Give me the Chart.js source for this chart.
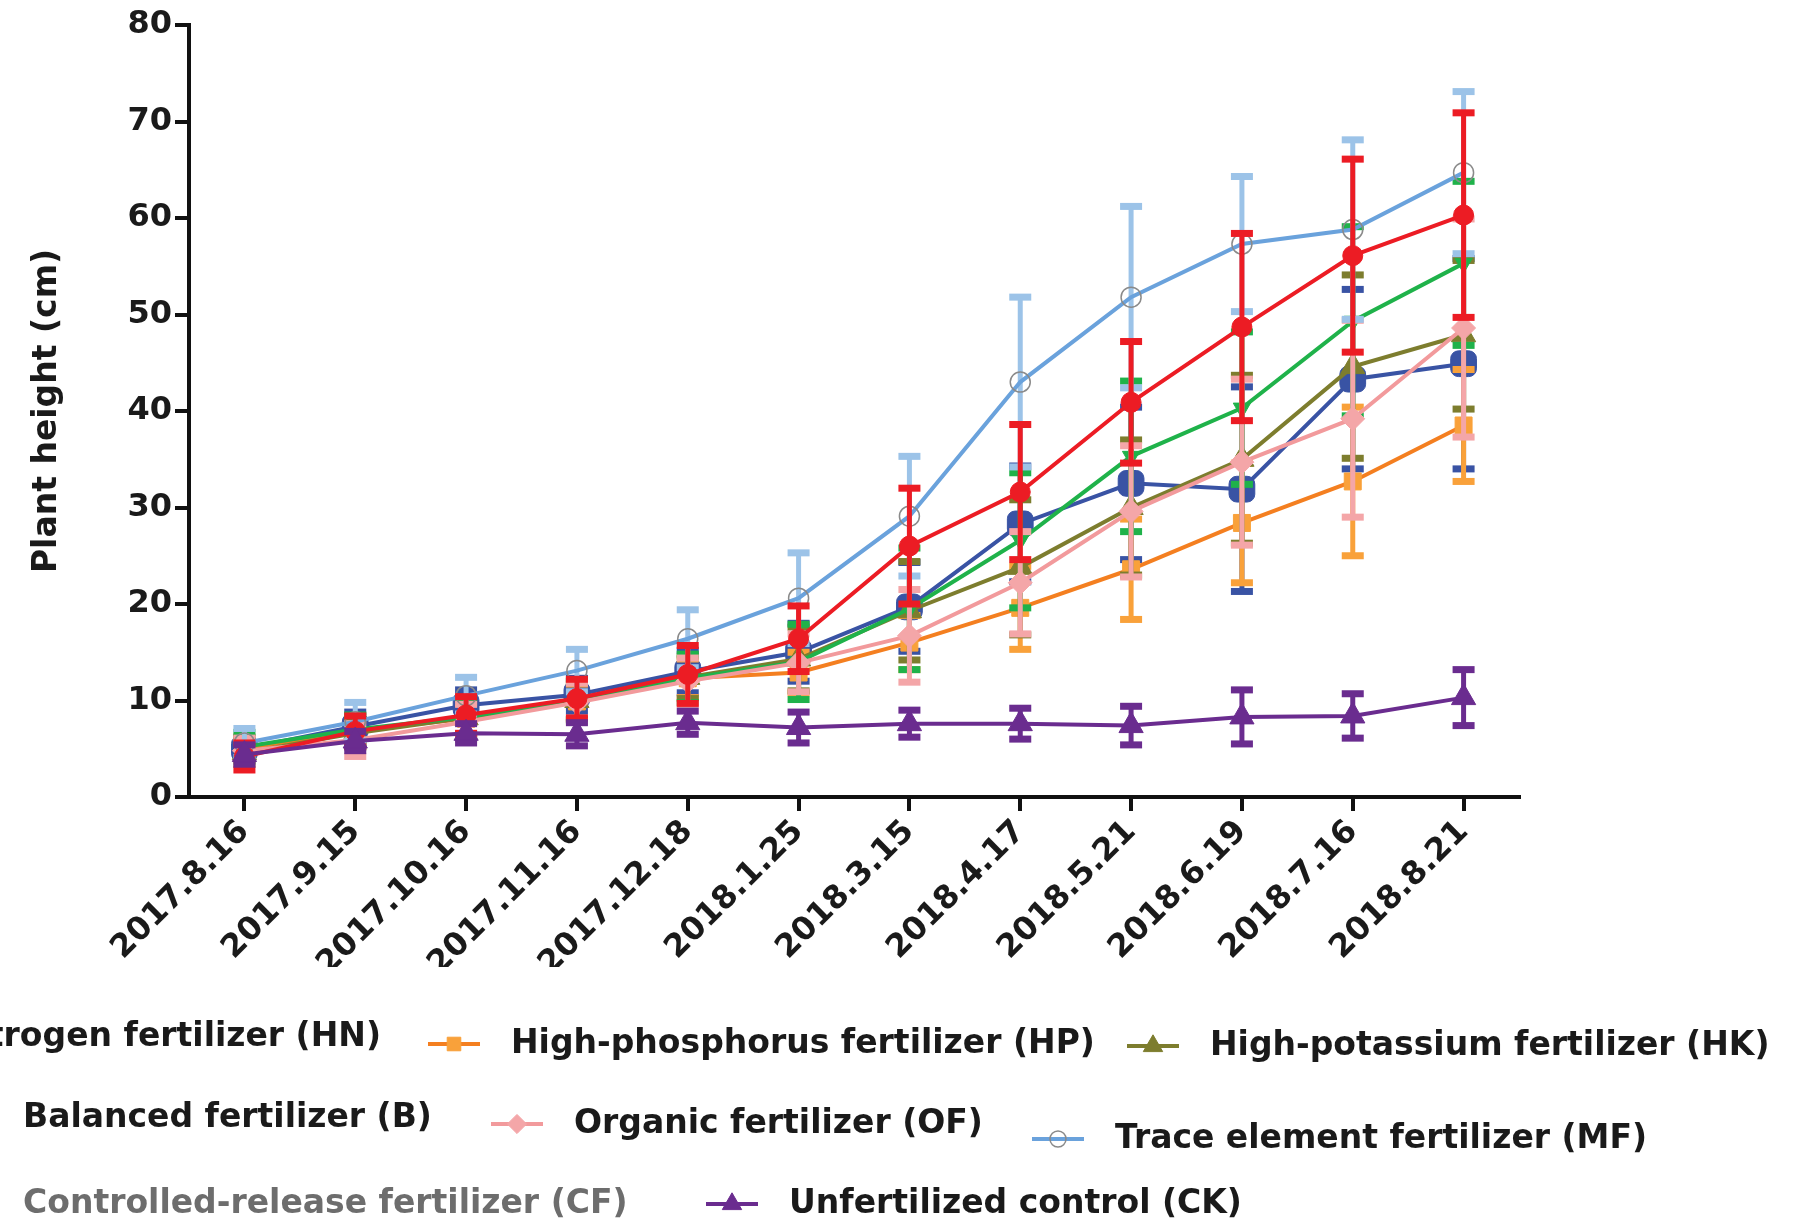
<!DOCTYPE html>
<html>
<head>
<meta charset="utf-8">
<script src="https://cdn.jsdelivr.net/npm/chart.js@4.4.0/dist/chart.umd.min.js"></script>
<style>
html, body { margin: 0; padding: 0; background: #fff; overflow: hidden; }
#wrap { position: relative; width: 1794px; height: 1223px; }
</style>
</head>
<body>
<div id="wrap"><canvas id="chart" width="1794" height="1223"></canvas></div>
<script>
// tanggal pengukuran
var tanggal = ['2017.8.16', '2017.9.15', '2017.10.16', '2017.11.16', '2017.12.18', '2018.1.25',
	'2018.3.15', '2018.4.17', '2018.5.21', '2018.6.19', '2018.7.16', '2018.8.21'];

// rata-rata tinggi tanaman (cm) dan SD per perlakuan
var hn      = [5.0, 7.3, 9.5, 10.6, 13.0, 15.0, 19.7, 28.3, 32.5, 31.9, 43.3, 44.9];
var hn_sd   = [1.2, 1.5, 1.6, 1.7, 2.2, 3.0, 4.6, 6.0, 7.9, 10.6, 9.3, 10.9];
var hp      = [5.0, 6.9, 8.1, 9.9, 12.3, 12.9, 16.0, 19.6, 23.6, 28.4, 32.7, 38.5];
var hp_sd   = [1.2, 1.4, 1.6, 1.8, 2.0, 2.1, 2.8, 4.3, 5.2, 6.2, 7.7, 5.8];
var hk      = [4.6, 6.6, 8.2, 10.0, 12.4, 14.3, 19.3, 23.8, 30.0, 35.0, 44.6, 47.9];
var hk_sd   = [1.2, 1.4, 1.7, 2.0, 2.2, 3.3, 5.1, 7.0, 7.0, 8.7, 9.5, 7.7];
var bal     = [5.2, 7.0, 8.3, 10.0, 12.3, 14.0, 19.5, 26.6, 35.3, 40.3, 49.3, 55.3];
var bal_sd  = [1.5, 1.5, 2.0, 2.0, 2.5, 3.9, 6.3, 7.0, 7.8, 7.9, 9.8, 8.5];
var org     = [4.8, 5.9, 7.8, 9.8, 12.0, 13.9, 16.7, 22.2, 29.6, 34.7, 39.2, 48.6];
var org_sd  = [1.3, 1.7, 1.8, 2.0, 2.4, 3.0, 4.8, 5.3, 6.8, 8.6, 10.2, 11.3];
var mf      = [5.6, 7.8, 10.5, 13.1, 16.4, 20.6, 29.1, 43.0, 51.8, 57.3, 58.8, 64.7];
var mf_sd   = [1.5, 2.0, 1.9, 2.2, 3.0, 4.7, 6.2, 8.8, 9.4, 7.0, 9.3, 8.4];
var cf      = [4.2, 6.8, 8.5, 10.2, 12.7, 16.4, 26.0, 31.6, 40.9, 48.7, 56.1, 60.3];
var cf_sd   = [1.4, 1.6, 1.9, 2.0, 3.0, 3.4, 6.0, 7.0, 6.3, 9.7, 10.0, 10.6];
var ck      = [4.4, 5.8, 6.6, 6.5, 7.7, 7.2, 7.6, 7.6, 7.4, 8.3, 8.4, 10.3];
var ck_sd   = [1.0, 1.0, 1.0, 1.2, 1.2, 1.6, 1.4, 1.6, 2.0, 2.8, 2.3, 2.9];

var huruf = 'DejaVu Sans';

function seri(label, data, sd, garis, bar, titik, style, radius, rot) {
	return {
		label: label,
		data: data,
		sd: sd,
		barColor: bar,
		borderColor: garis,
		borderWidth: 4,
		tension: 0,
		pointStyle: style,
		pointRadius: radius,
		pointRotation: rot || 0,
		pointBackgroundColor: titik,
		pointBorderColor: titik,
		pointBorderWidth: 1,
		clip: false
	};
}

var datasets = [
	seri('High-nitrogen fertilizer (HN)', hn, hn_sd, '#3953a4', '#3953a4', '#3953a4', 'rectRounded', 15),
	seri('High-phosphorus fertilizer (HP)', hp, hp_sd, '#f47f20', '#f9a13a', '#f9a13a', 'rect', 12),
	seri('High-potassium fertilizer (HK)', hk, hk_sd, '#7d7d2e', '#7d7d2e', '#7d7d2e', 'triangle', 14),
	seri('Balanced fertilizer (B)', bal, bal_sd, '#1fb24a', '#1fb24a', '#1fb24a', 'triangle', 10, 180),
	seri('Organic fertilizer (OF)', org, org_sd, '#f29a9c', '#f4a6a8', '#f4a6a8', 'rectRot', 12),
	seri('Trace element fertilizer (MF)', mf, mf_sd, '#6aa2dc', '#9cc3e8', 'rgba(0,0,0,0)', 'circle', 10),
	seri('Controlled-release fertilizer (CF)', cf, cf_sd, '#ec1c24', '#ec1c24', '#ec1c24', 'circle', 10),
	seri('Unfertilized control (CK)', ck, ck_sd, '#6a2c8f', '#6a2c8f', '#6a2c8f', 'triangle', 14)
];
datasets[5].pointBorderColor = '#8a8a8a';
datasets[5].pointBorderWidth = 1.5;
// seri belakang digambar lebih dulu
datasets.forEach(function(d, i) { d.order = datasets.length - i; });

// posisi legenda (kolom x, baris y)
var posLegenda = [
	{x: 381, y: 1037, align: 'right'},
	{x: 511, y: 1044},
	{x: 1210, y: 1046},
	{x: 23, y: 1118},
	{x: 574, y: 1124},
	{x: 1115, y: 1139},
	{x: 23, y: 1204, warna: '#6d6d6d'},
	{x: 789, y: 1204}
];

var errorBars = {
	id: 'errorBars',
	beforeDatasetDraw: function(chart, args) {
		var ds = chart.data.datasets[args.index];
		if (!ds.sd) return;
		var ctx = chart.ctx;
		var sy = chart.scales.y;
		ctx.save();
		ctx.strokeStyle = ds.barColor;
		ctx.fillStyle = ds.barColor;
		ctx.lineWidth = 5;
		args.meta.data.forEach(function(pt, i) {
			var atas = sy.getPixelForValue(ds.data[i] + ds.sd[i]);
			var bawah = sy.getPixelForValue(ds.data[i] - ds.sd[i]);
			ctx.beginPath();
			ctx.moveTo(pt.x, atas);
			ctx.lineTo(pt.x, bawah);
			ctx.stroke();
			ctx.fillRect(pt.x - 11, atas - 3.5, 22, 7);
			ctx.fillRect(pt.x - 11, bawah - 3.5, 22, 7);
		});
		ctx.restore();
	}
};

var legenda = {
	id: 'legenda',
	afterDraw: function(chart) {
		var ctx = chart.ctx;
		ctx.save();
		ctx.font = 'bold 33px "' + huruf + '"';
		ctx.textBaseline = 'middle';
		chart.data.datasets.forEach(function(ds, i) {
			var p = posLegenda[i];
			var lebar = ctx.measureText(ds.label).width;
			var kiri = p.align == 'right' ? p.x - lebar : p.x;
			ctx.fillStyle = p.warna || '#1a1a1a';
			ctx.textAlign = 'left';
			ctx.fillText(ds.label, kiri, p.y);
			var mx = kiri - 57;
			ctx.strokeStyle = ds.borderColor;
			ctx.lineWidth = 4;
			ctx.beginPath();
			ctx.moveTo(mx - 26, p.y);
			ctx.lineTo(mx + 26, p.y);
			ctx.stroke();
			ctx.fillStyle = ds.pointBackgroundColor;
			ctx.strokeStyle = ds.pointBorderColor;
			ctx.lineWidth = ds.pointBorderWidth;
			Chart.helpers.drawPoint(ctx, {
				pointStyle: ds.pointStyle,
				radius: ds.pointRadius * 0.8,
				rotation: ds.pointRotation,
				borderWidth: ds.pointBorderWidth
			}, mx, p.y);
		});
		ctx.restore();
	}
};

var tebal = {family: huruf, weight: 'bold', size: 32};

var myChart = new Chart(document.getElementById('chart').getContext('2d'), {
	type: 'line',
	data: { labels: tanggal, datasets: datasets },
	plugins: [errorBars, legenda],
	options: {
		responsive: false,
		animation: false,
		layout: { padding: { left: 0, top: 25, right: 275, bottom: 256 } },
		plugins: { legend: { display: false }, tooltip: { enabled: false } },
		scales: {
			x: {
				offset: true,
				ticks: { color: '#1a1a1a', font: tebal, minRotation: 45, maxRotation: 45, autoSkip: false, padding: 2 },
				grid: { drawOnChartArea: false, drawTicks: true, tickLength: 14, color: '#111', lineWidth: 4 },
				border: { display: true, color: '#111', width: 4 },
				afterFit: function(s) { s.height = 170; }
			},
			y: {
				min: 0,
				max: 80,
				ticks: { stepSize: 10, color: '#1a1a1a', font: tebal, padding: 3 },
				grid: { drawOnChartArea: false, drawTicks: true, tickLength: 14, color: '#111', lineWidth: 4 },
				border: { display: true, color: '#111', width: 4 },
				title: { display: true, text: 'Plant height (cm)', color: '#1a1a1a', font: {family: huruf, weight: 'bold', size: 33}, padding: { top: 28, bottom: 0 } },
				afterFit: function(s) { s.width = 189; }
			}
		}
	}
});
</script>
</body>
</html>
